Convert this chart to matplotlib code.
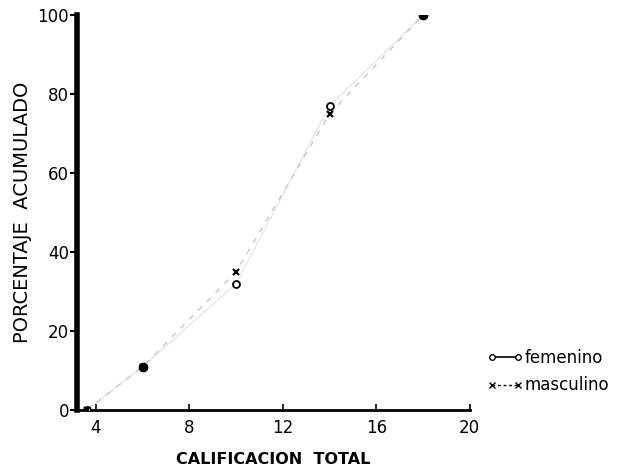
import matplotlib.pyplot as plt
from matplotlib.lines import Line2D

# data (x = calificacion total, y = porcentaje acumulado)
x_fem = [3.6, 6, 10, 14, 18]
y_fem = [0, 11, 32, 77, 100]
x_masc = [3.6, 6, 10, 14, 18]
y_masc = [0, 11, 35, 75, 100]

x_ticks = [3.2, 4, 8, 12, 16, 20]
x_ticklabels = ["", "4", "8", "12", "16", "20"]
y_ticks = [0, 20, 40, 60, 80, 100]
y_ticklabels = ["0", "20", "40", "60", "80", "100"]

plt.rcParams['font.family'] = ['DejaVu Sans']

fig = plt.figure(figsize=(6.23, 4.72), dpi=100)
ax = fig.add_axes([0.124, 0.131, 0.630, 0.837])

# the lines are mostly faded in the scan, so keep them faint
ax.plot(x_fem, y_fem, color='#e2e2e2', lw=0.8, ls='-', zorder=1)
ax.plot(x_masc, y_masc, color='#c8c8c8', lw=1.0, ls=(0, (4, 5)), zorder=1)

ax.plot(x_fem, y_fem, ls='none', marker='o', ms=5, mfc='white', mec='black', mew=1.3, zorder=3)
ax.plot(x_masc, y_masc, ls='none', marker='x', ms=5, color='black', mew=1.6, zorder=3)
# the overlapping points look filled in the scan
ax.plot([6, 18], [11, 100], ls='none', marker='o', ms=6, color='black', zorder=4)

ax.set_xlim(3.2, 20)
ax.set_ylim(0, 100)
ax.set_xticks(x_ticks)
ax.set_xticklabels(x_ticklabels, fontsize=12)
ax.set_yticks(y_ticks)
ax.set_yticklabels(y_ticklabels, fontsize=12)
ax.tick_params(axis='x', direction='in', length=4, width=1.2, pad=6)
ax.tick_params(axis='y', direction='out', length=5, width=1.5, pad=1)

for s in ['top', 'right']:
    ax.spines[s].set_visible(False)
ax.spines['left'].set_linewidth(4)
ax.spines['bottom'].set_linewidth(2)

ax.set_ylabel("PORCENTAJE  ACUMULADO", fontsize=14, labelpad=4)
ax.set_xlabel("CALIFICACION  TOTAL", fontsize=11.5, fontweight='bold', labelpad=11)

handles = [
    Line2D([], [], color='black', lw=1.2, marker='o', ms=4, mfc='white', mec='black'),
    Line2D([], [], color='black', lw=1.0, ls=(0, (2, 2)), marker='x', ms=4),
]
fig.legend(handles, ["femenino", "masculino"], loc='upper left',
           bbox_to_anchor=(0.757, 0.292), frameon=False, fontsize=12,
           handlelength=2.2, handletextpad=0.1, labelspacing=0.55, numpoints=2)

fig.savefig("out.png", dpi=100, facecolor='white')
